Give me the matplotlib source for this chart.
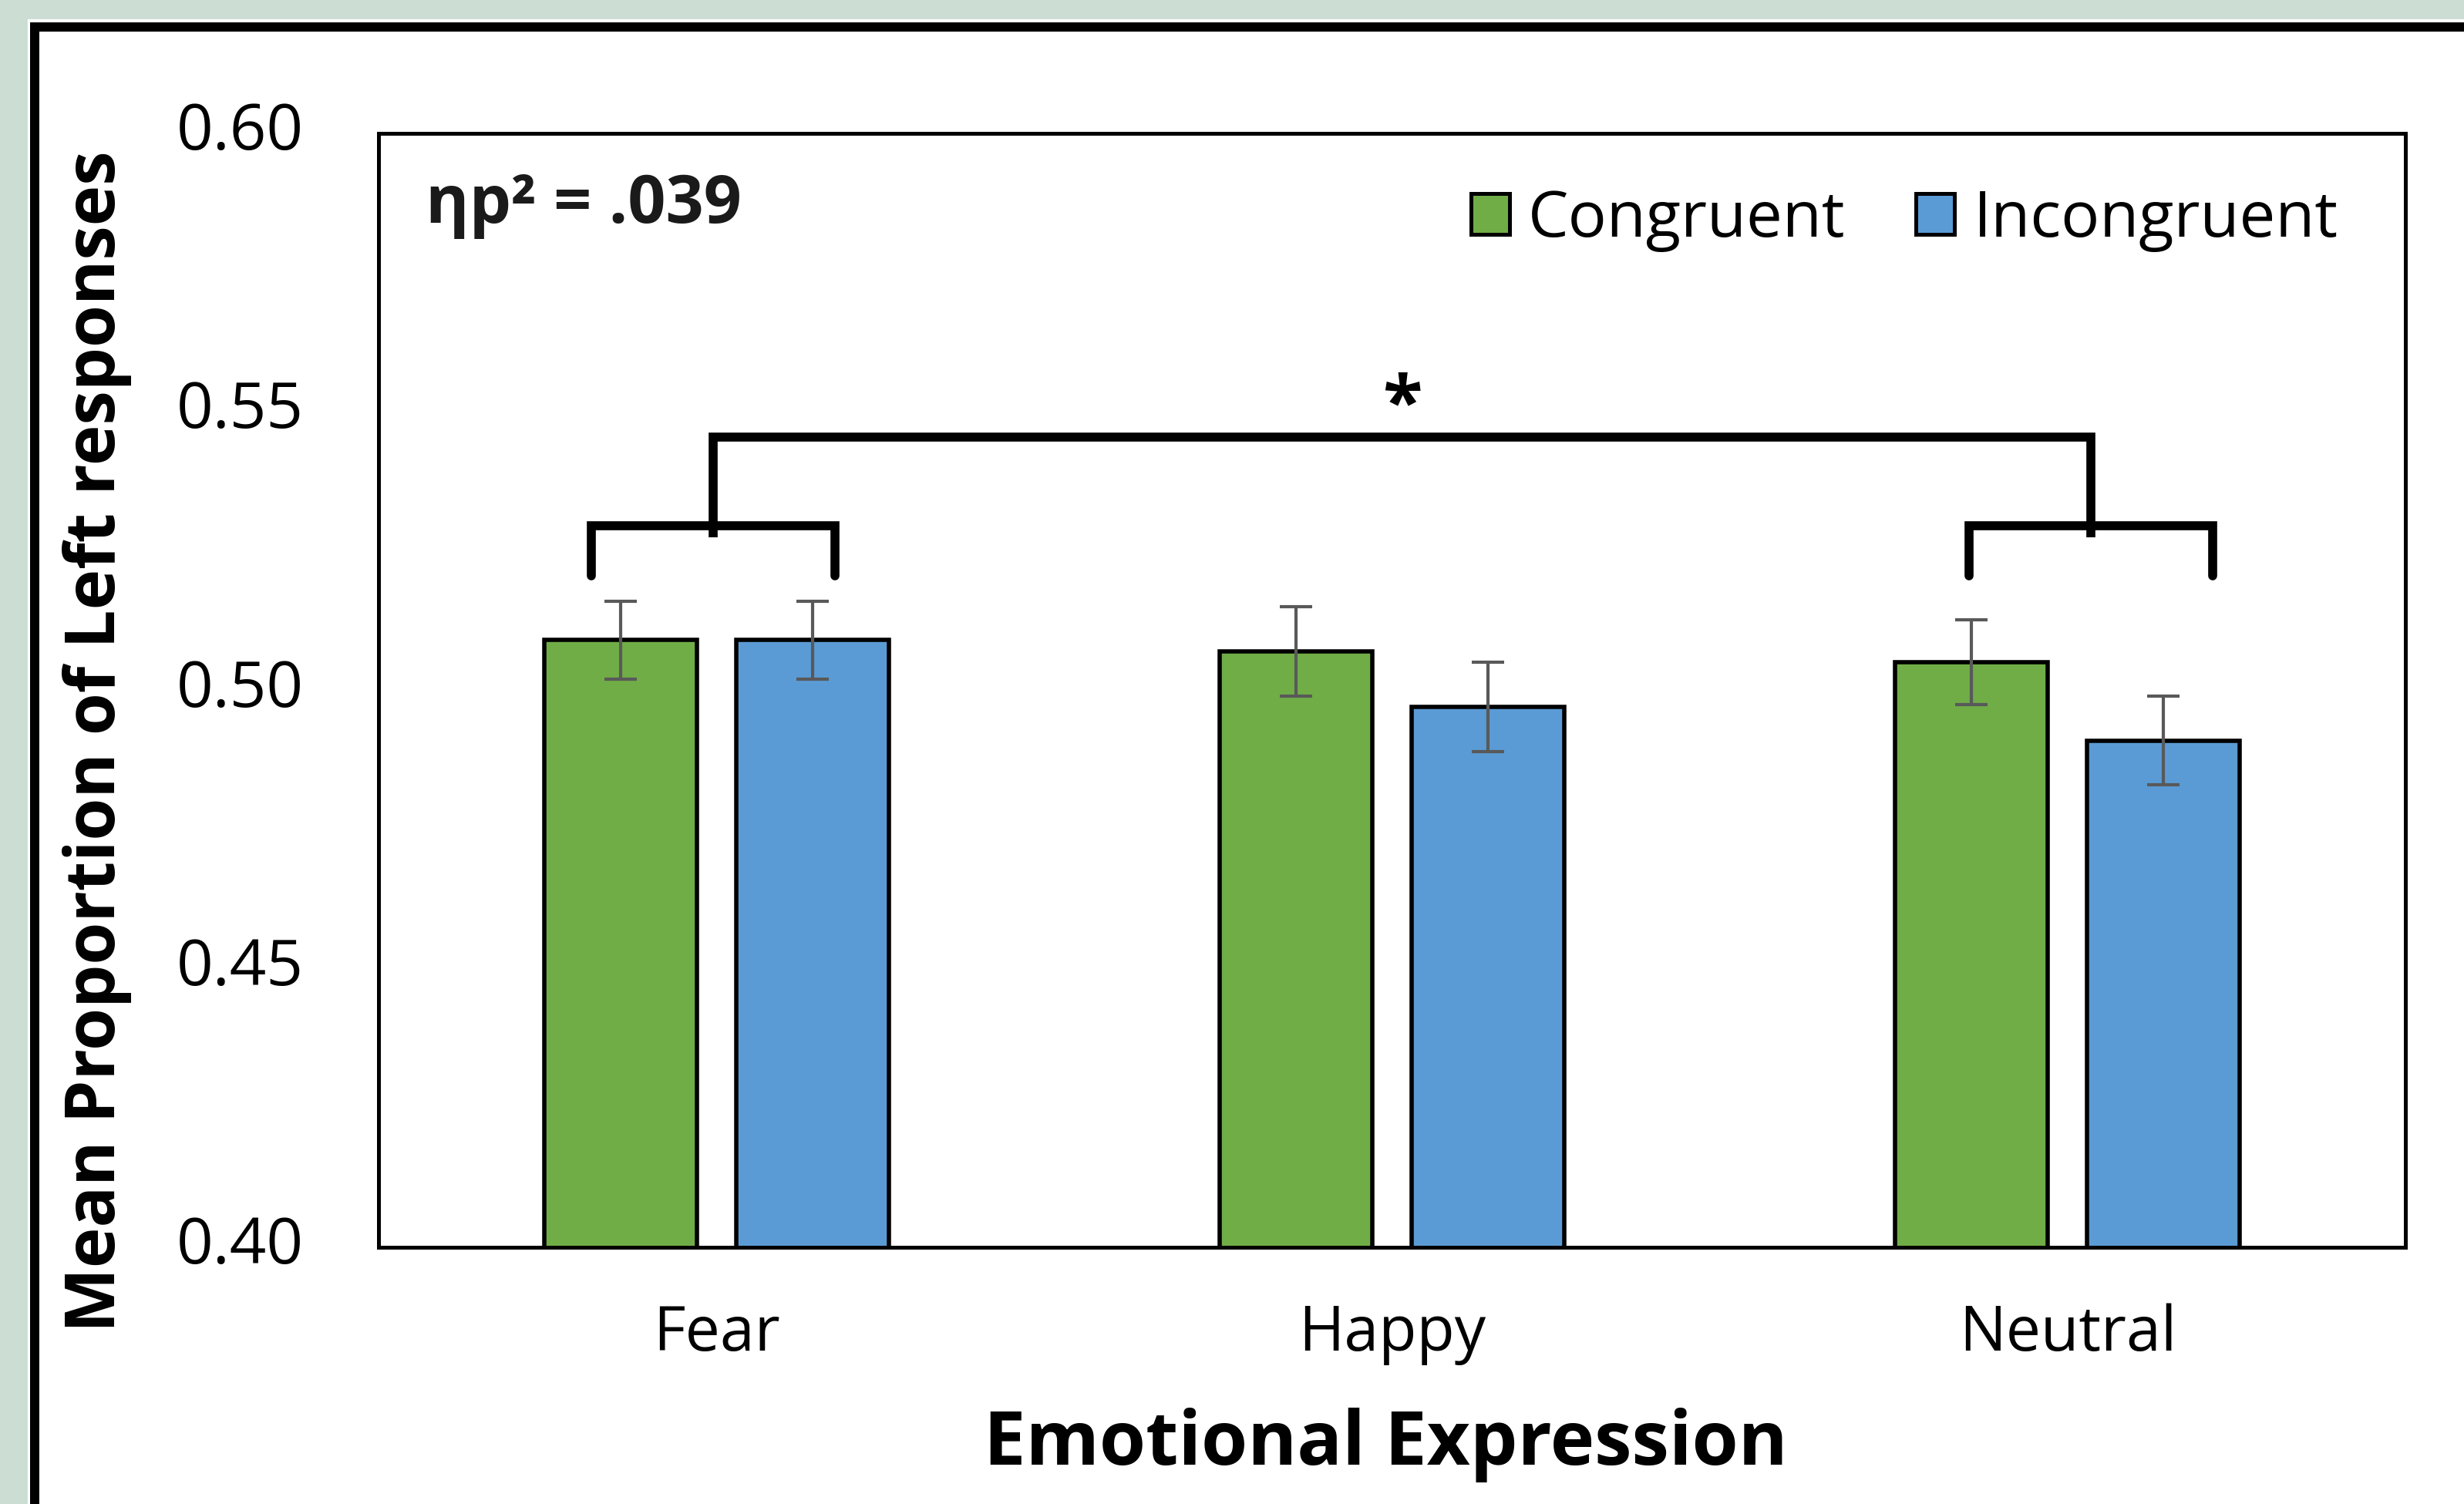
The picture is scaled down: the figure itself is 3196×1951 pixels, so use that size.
import matplotlib
matplotlib.use("Agg")
from matplotlib import pyplot as plt
from matplotlib.patches import Patch, Rectangle
from matplotlib.lines import Line2D
import matplotlib.transforms as mtransforms
import numpy as np

plt.rcParams['font.family'] = ['Open Sans', 'DejaVu Sans']

# data
emotions = ['Fear', 'Happy', 'Neutral']
congruent = [0.509, 0.507, 0.505]
incongruent = [0.509, 0.497, 0.491]
congruent_err = [0.007, 0.008, 0.0076]
incongruent_err = [0.007, 0.008, 0.008]
yticks = [0.40, 0.45, 0.50, 0.55, 0.60]
effect_text = 'ηp² = .039'

# brackets: (category index, left leg offset, right leg offset)
brackets = [(0, -0.185, 0.176), (2, -0.146, 0.215)]
bracket_low, bracket_mid, bracket_top = 0.5206, 0.5296, 0.5455
stem_low = 0.5275

W, H = 3196, 1951
fig = plt.figure(figsize=(W / 200, H / 200), dpi=200)
fig.patch.set_facecolor('white')

# light green surround + thick black frame (cropped figure look)
bg = '#ccded3'
fig.patches.append(Rectangle((0, 1 - 23 / H), 1, 23 / H, transform=fig.transFigure, color=bg, zorder=0))
fig.patches.append(Rectangle((0, 0), 34 / W, 1, transform=fig.transFigure, color=bg, zorder=0))
lw_frame = 12 * 72 / 200
fig.add_artist(Line2D([40 / W, 1], [1 - 35 / H] * 2, transform=fig.transFigure, color='black', lw=lw_frame, solid_capstyle='butt'))
fig.add_artist(Line2D([45 / W] * 2, [0, 1 - 29 / H], transform=fig.transFigure, color='black', lw=lw_frame, solid_capstyle='butt'))

ax = fig.add_axes([491 / W, 1 - 1618 / H, (3120 - 491) / W, (1618 - 173) / H])

x = np.arange(len(emotions))
bw = 0.226
off = 0.142
green = '#70AD47'
blue = '#5B9BD5'
ebar = dict(ecolor='#595959', elinewidth=1.5, capsize=7.4, capthick=1.5)

ax.bar(x - off, congruent, bw, color=green, edgecolor='black', linewidth=2.0,
       yerr=congruent_err, error_kw=ebar, label='Congruent', zorder=2)
ax.bar(x + off, incongruent, bw, color=blue, edgecolor='black', linewidth=2.0,
       yerr=incongruent_err, error_kw=ebar, label='Incongruent', zorder=2)

ax.set_xlim(-0.5, 2.5)
ax.set_ylim(0.40, 0.60)
ax.set_yticks(yticks)
ax.set_yticklabels(['%.2f' % t for t in yticks])
ax.set_xticks(x)
ax.set_xticklabels(emotions)
ax.tick_params(axis='y', length=0, pad=35, labelsize=30)
ax.tick_params(axis='x', length=0, pad=26, labelsize=29)
shift = mtransforms.ScaledTranslation(0, 10 / 200, fig.dpi_scale_trans)
for lab in ax.get_yticklabels():
    lab.set_transform(lab.get_transform() + shift)
for s in ax.spines.values():
    s.set_linewidth(1.8)
    s.set_color('black')

ax.set_ylabel('Mean Proportion of Left responses', fontsize=32, fontweight='bold', va='center')
ax.yaxis.set_label_coords(-0.139, 0.454)
ax.set_xlabel('Emotional Expression', fontsize=35, fontweight='bold', va='center')
ax.xaxis.set_label_coords(0.497, -0.1775)

# significance brackets
stems = []
for idx, lo, hi in brackets:
    xl, xr = x[idx] + lo, x[idx] + hi
    ax.plot([xl, xl, xr, xr], [bracket_low, bracket_mid, bracket_mid, bracket_low],
            color='black', lw=4.2, solid_joinstyle='miter', solid_capstyle='round', zorder=3)
    stems.append((xl + xr) / 2)
ax.plot([stems[0], stems[0], stems[1], stems[1]],
        [stem_low, bracket_top, bracket_top, stem_low],
        color='black', lw=4.2, solid_joinstyle='miter', solid_capstyle='butt', zorder=3)
ax.text(np.mean(stems), bracket_top + 0.0018, '*', ha='center', va='baseline',
        fontsize=34, fontweight='bold')

ax.text(0.0233, 0.935, effect_text, transform=ax.transAxes, ha='left', va='center',
        fontsize=31, fontweight='bold', color='#1a1a1a')

handles = [Patch(facecolor=green, edgecolor='black', lw=1.8, label='Congruent'),
           Patch(facecolor=blue, edgecolor='black', lw=1.8, label='Incongruent')]
ax.legend(handles=handles, ncol=2, frameon=False, loc='center right',
          bbox_to_anchor=(0.9667, 0.922), borderaxespad=0, borderpad=0,
          fontsize=30, handlelength=0.6, handleheight=0.6, handletextpad=0.29,
          columnspacing=1.1)

fig.savefig('out.png', dpi=200)
